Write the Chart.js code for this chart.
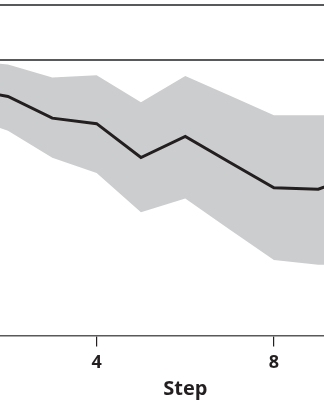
<!DOCTYPE html>
<html>
<head>
<meta charset="utf-8">
<script src="https://cdn.jsdelivr.net/npm/chart.js@4"></script>
<style>
  html, body { margin: 0; padding: 0; background: #fff; }
  #wrap { width: 324px; height: 400px; }
</style>
</head>
<body>
<div id="wrap"><canvas id="chart" width="324" height="400"></canvas></div>
<script>
// Values (step 1 and 10 sit just outside the crop)
const steps = [1, 2, 3, 4, 5, 6, 7, 8, 9, 10];
const meanValues  = [0.896, 0.868, 0.789, 0.769, 0.646, 0.723, 0.629, 0.536, 0.531, 0.59];
const upperValues = [1.000, 0.984, 0.937, 0.945, 0.847, 0.942, 0.871, 0.800, 0.800, 0.800];
const lowerValues = [0.798, 0.743, 0.645, 0.590, 0.447, 0.497, 0.385, 0.274, 0.257, 0.254];
const xTickValues = [4, 8];
const refLines = [1.0, 1.2];
const xTitle = 'Step';
const xTitleAt = 6; // the title is centred on the full (uncropped) axis

const ink = '#231f20';
const band = '#cccdcf';

function toPoints(values) {
    return steps.map((s, i) => ({ x: s, y: values[i] }));
}

// draws the axis title under the centre of the whole axis
const axisTitle = {
    id: 'axisTitle',
    afterDraw(chart) {
        const c = chart.ctx;
        const x = chart.scales.x.getPixelForValue(xTitleAt);
        c.save();
        c.font = 'bold 20px "Open Sans"';
        c.fillStyle = ink;
        c.textAlign = 'center';
        c.textBaseline = 'alphabetic';
        c.fillText(xTitle, x, chart.height - 5);
        c.restore();
    }
};

const ctx = document.getElementById('chart').getContext('2d');

new Chart(ctx, {
    type: 'line',
    data: {
        datasets: [
            {
                // mean line drawn on top
                data: toPoints(meanValues),
                borderColor: ink,
                borderWidth: 3,
                pointRadius: 0,
                tension: 0,
                fill: false,
                order: 0
            },
            {
                data: toPoints(upperValues),
                borderWidth: 0,
                borderColor: 'transparent',
                backgroundColor: band,
                pointRadius: 0,
                tension: 0,
                fill: '+1',
                order: 1
            },
            {
                data: toPoints(lowerValues),
                borderWidth: 0,
                borderColor: 'transparent',
                pointRadius: 0,
                tension: 0,
                fill: false,
                order: 1
            }
        ]
    },
    options: {
        responsive: false,
        animation: false,
        layout: { padding: { top: 5, left: 0, right: 0, bottom: 20 } },
        plugins: {
            legend: { display: false },
            tooltip: { enabled: false }
        },
        scales: {
            x: {
                type: 'linear',
                min: 1.82,
                max: 9.13,
                afterBuildTicks: (scale) => {
                    scale.ticks = xTickValues.map(v => ({ value: v }));
                },
                border: { display: true, color: '#58595b', width: 1.5 },
                grid: {
                    drawOnChartArea: false,
                    drawTicks: true,
                    tickLength: 11,
                    tickColor: ink,
                    lineWidth: 1.2
                },
                ticks: {
                    color: ink,
                    padding: 6,
                    maxRotation: 0,
                    font: { family: 'Open Sans', weight: 'bold', size: 18 }
                }
            },
            y: {
                min: 0,
                max: 1.2,
                afterBuildTicks: (scale) => {
                    scale.ticks = refLines.map(v => ({ value: v }));
                },
                border: { display: false },
                grid: {
                    drawTicks: false,
                    color: '#58595b',
                    lineWidth: 2
                },
                ticks: { display: false }
            }
        }
    },
    plugins: [axisTitle]
});
</script>
</body>
</html>
